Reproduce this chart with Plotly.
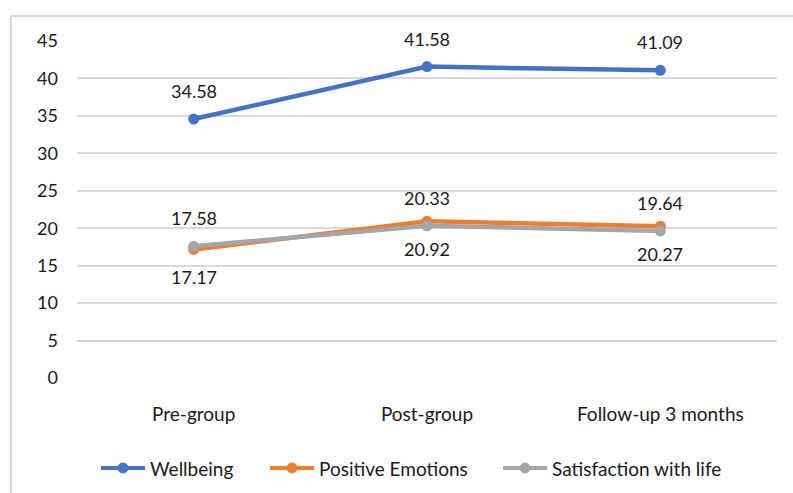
import plotly.graph_objects as go

# Time points of the group intervention
categories = ["Pre-group", "Post-group", "Follow-up 3 months"]

# Mean scores per scale
wellbeing = [34.58, 41.58, 41.09]
positive_emotions = [17.17, 20.92, 20.27]
satisfaction_life = [17.58, 20.33, 19.64]

y_ticks = [0, 5, 10, 15, 20, 25, 30, 35, 40, 45]

FONT = "Lato"
TEXT = "#1a1a1a"
GRID = "#d9d9d9"

series = [
    ("Wellbeing", wellbeing, "#4472C4", 1),
    ("Positive Emotions", positive_emotions, "#ED7D31", -1),
    ("Satisfaction with life", satisfaction_life, "#A5A5A5", 1),
]

# plot area in pixels: x 77..777, y 41..378
PX0, PW, PY0, PH = 77, 700, 378, 337


def px(x):
    return (x - PX0) / PW


def py(y):
    return (PY0 - y) / PH


fig = go.Figure()
annotations = []
shapes = []
legend_starts = [101, 270, 503]
legend_y = 468
for (name, vals, color, side), lx in zip(series, legend_starts):
    fig.add_trace(go.Scatter(
        x=categories, y=vals, name=name, mode="lines+markers",
        line=dict(color=color, width=4.5),
        marker=dict(color=color, size=11),
        showlegend=False,
    ))
    for c, v in zip(categories, vals):
        annotations.append(dict(
            x=c, y=v, xref="x", yref="y", text=f"{v:.2f}",
            showarrow=False, yshift=28 * side, yanchor="middle",
            font=dict(family=FONT, size=18, color=TEXT),
        ))
    # legend entry: line with a dot and the series name
    shapes.append(dict(type="line", xref="paper", yref="paper",
                       x0=px(lx), x1=px(lx + 44), y0=py(legend_y), y1=py(legend_y),
                       line=dict(color=color, width=4)))
    shapes.append(dict(type="circle", xref="paper", yref="paper",
                       x0=px(lx + 17), x1=px(lx + 27),
                       y0=py(legend_y + 5), y1=py(legend_y - 5),
                       fillcolor=color, line=dict(color=color, width=1)))
    annotations.append(dict(
        x=px(lx + 47), y=py(legend_y), xref="paper", yref="paper",
        text=name, showarrow=False, xanchor="left", yanchor="middle",
        font=dict(family=FONT, size=19, color=TEXT),
    ))

# light frame around the chart (left and top edges visible)
shapes += [
    dict(type="line", xref="paper", yref="paper",
         x0=px(11), x1=px(11), y0=py(16), y1=py(520),
         line=dict(color=GRID, width=2)),
    dict(type="line", xref="paper", yref="paper",
         x0=px(11), x1=px(820), y0=py(16), y1=py(16),
         line=dict(color=GRID, width=2)),
]

fig.update_layout(
    width=793, height=493,
    margin=dict(l=77, r=16, t=41, b=115),
    paper_bgcolor="white", plot_bgcolor="white",
    font=dict(family=FONT, size=18, color=TEXT),
    showlegend=False,
    annotations=annotations,
    shapes=shapes,
)
fig.update_xaxes(
    type="category", range=[-0.5, 2.5], showgrid=False, zeroline=False,
    showline=False, ticks="", ticklabelstandoff=23,
    tickfont=dict(family=FONT, size=19, color=TEXT),
)
fig.update_yaxes(
    range=[0, 45], tickvals=y_ticks, showgrid=True, gridcolor=GRID,
    gridwidth=1.5, zeroline=False, showline=False, ticks="",
    ticklabelstandoff=18,
    tickfont=dict(family=FONT, size=18, color=TEXT),
)

fig.write_html("out.html")
